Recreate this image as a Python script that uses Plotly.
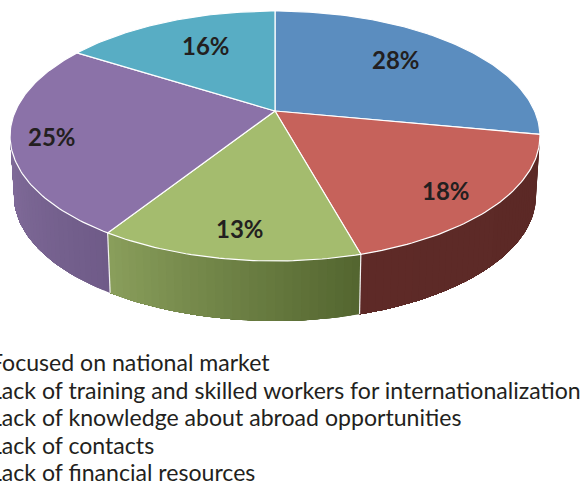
import math
import plotly.graph_objects as go

categories = ["Focused on national market",
              "Lack of training and skilled workers for internationalization",
              "Lack of knowledge about abroad opportunities",
              "Lack of contacts",
              "Lack of financial resources"]
values = [28.0, 17.7, 13.3, 25.0, 16.0]

top_colors = ["#5B8DBF", "#C6625B", "#A4BC6E", "#8B72A8", "#58ADC4"]
side_left = ["#5B8DBF", "#5E2A27", "#8A9F5C", "#826D9B", "#58ADC4"]
side_right = ["#5B8DBF", "#5B2926", "#53652F", "#6F5B88", "#58ADC4"]
label_pos = [(396, 59), (446, 190), (240, 228), (52, 136), (206, 45)]
legend_y = [362, 390, 417, 445, 472]

CX, CY, A, B, K = 275, 111, 259.6, 120, 0.2
DEPTH, SHRINK = 60, 0.985
VIS0, VIS1 = 101.5, 258.5


def top(theta):
    t = math.radians(theta)
    u, v = math.sin(t), math.cos(t)
    d = 1 + K * v
    return CX + A * u / d, CY - B * v / d


def bottom(theta):
    x, y = top(theta)
    return CX + (x - CX) * SHRINK, y + DEPTH


def mix(c1, c2, f):
    a = [int(c1[i:i + 2], 16) for i in (1, 3, 5)]
    b = [int(c2[i:i + 2], 16) for i in (1, 3, 5)]
    return "rgb(%d,%d,%d)" % tuple(round(p + (q - p) * f) for p, q in zip(a, b))


total = sum(values)
edges = [0.0]
for val in values:
    edges.append(edges[-1] + val / total * 360)

fig = go.Figure()

# side walls: each band covers the rest of its slice, so later bands paint over it without seams
seams = []
for i in range(len(values)):
    lo, hi = max(edges[i], VIS0), min(edges[i + 1], VIS1)
    if hi <= lo:
        continue
    n = max(2, int((hi - lo) / 1.5))
    for j in range(n):
        a0 = lo + (hi - lo) * j / n
        m = n - j
        arc = [a0 + (hi - a0) * k / m for k in range(m + 1)]
        f = (j + 0.5) / n
        col = mix(side_right[i], side_left[i], f)
        p = [top(a) for a in arc] + [bottom(a) for a in reversed(arc)]
        p.append(p[0])
        fig.add_trace(go.Scatter(x=[q[0] for q in p], y=[q[1] for q in p], mode="lines",
                                 fill="toself", fillcolor=col,
                                 line=dict(color=col, width=0),
                                 hoverinfo="skip", showlegend=False))
    if i > 0 and VIS0 < edges[i] < VIS1:
        seams.append(edges[i])

for s in seams:
    p = [top(s), bottom(s)]
    fig.add_trace(go.Scatter(x=[q[0] for q in p], y=[q[1] for q in p], mode="lines",
                             line=dict(color="#F2F2F2", width=1.2),
                             hoverinfo="skip", showlegend=False))

# top face
for i in range(len(values)):
    n = max(8, int(edges[i + 1] - edges[i]))
    pts = [top(edges[i] + (edges[i + 1] - edges[i]) * j / n) for j in range(n + 1)]
    xs = [CX] + [q[0] for q in pts] + [CX]
    ys = [CY] + [q[1] for q in pts] + [CY]
    fig.add_trace(go.Scatter(x=xs, y=ys, mode="lines", fill="toself",
                             fillcolor=top_colors[i],
                             line=dict(color="#FFFFFF", width=1.2),
                             name=categories[i], hoverinfo="name", showlegend=False))

ann = []
for val, (x, y) in zip(values, label_pos):
    ann.append(dict(x=x, y=y, xref="x", yref="y", text="<b>%d%%</b>" % round(val / total * 100),
                    showarrow=False, xanchor="center", yanchor="middle",
                    font=dict(family="Lato", size=24, color="#231F20")))
for cat, y in zip(categories, legend_y):
    ann.append(dict(x=-12 / 582, y=1 - y / 484, xref="paper", yref="paper", text=cat,
                    showarrow=False, xanchor="left", yanchor="middle",
                    font=dict(family="Lato", size=23.1, color="#231F20")))

fig.update_layout(width=582, height=484, margin=dict(l=0, r=0, t=0, b=0), autosize=False,
                  paper_bgcolor="white", plot_bgcolor="white", showlegend=False,
                  annotations=ann,
                  xaxis=dict(range=[0, 582], visible=False, fixedrange=True),
                  yaxis=dict(range=[484, 0], visible=False, fixedrange=True))
fig.write_html("out.html", config={"displayModeBar": False},
               post_script="document.body.style.margin='0';document.body.style.overflow='hidden';")
